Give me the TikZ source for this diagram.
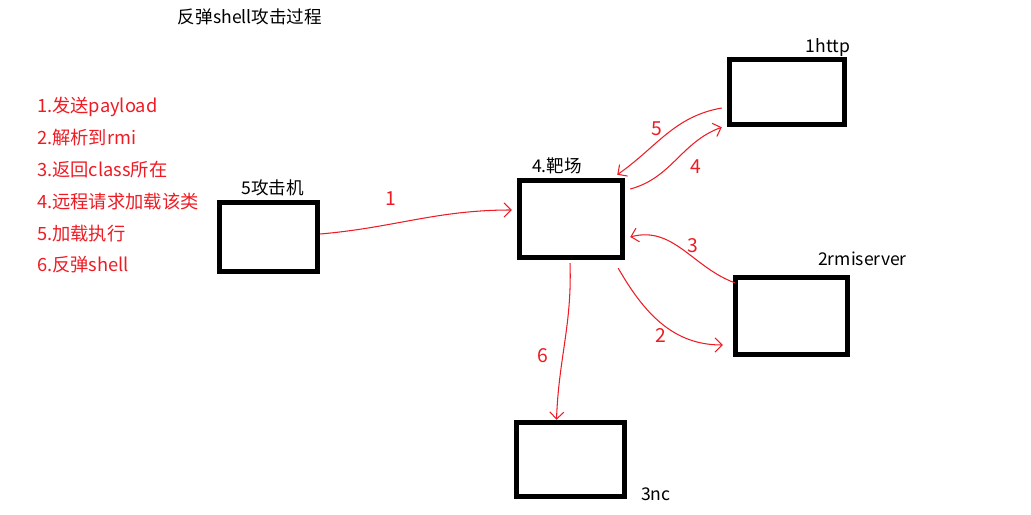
\documentclass[tikz,border=0pt]{standalone}
\usepackage{xcolor}
\usepackage{fontspec}
\setmainfont{Noto Sans CJK SC}
\usepackage{tikz}
\usetikzlibrary{positioning,arrows.meta}

\definecolor{penred}{RGB}{237,28,36}

\begin{document}
\begin{tikzpicture}[
x=0.02cm,y=-0.02cm,
>={Straight Barb[length=4pt,width=8pt]},
box/.style={
draw,
line width=0.11cm,
fill=white
},
boxlabel/.style={
font=\fontsize{10}{12}\selectfont,
inner sep=2pt
},
flow/.style={
draw=penred,
line width=0.6pt,
->
},
num/.style={
text=penred,
font=\fontsize{11}{13}\selectfont
}
]

\useasboundingbox (0,0) rectangle (1031,514);

%%%%%%%%%%%%%%%%%%%%%%%%%%%%%%%%%%%%%%%%%%%%%
% Title and steps
%%%%%%%%%%%%%%%%%%%%%%%%%%%%%%%%%%%%%%%%%%%%%

\node[boxlabel] (title) at (250,17)
{反弹shell攻击过程};

\node[text=penred,align=left,anchor=west,
font=\fontsize{10.4}{18.1}\selectfont] (steps) at (31,185.5)
{1.发送payload\\
2.解析到rmi\\
3.返回class所在\\
4.远程请求加载该类\\
5.加载执行\\
6.反弹shell};

%%%%%%%%%%%%%%%%%%%%%%%%%%%%%%%%%%%%%%%%%%%%%
% Machines
%%%%%%%%%%%%%%%%%%%%%%%%%%%%%%%%%%%%%%%%%%%%%

\node[box,minimum width=1.96cm,minimum height=1.38cm] (attacker) at (268.5,237) {};

\node[box,minimum width=2.06cm,minimum height=1.54cm] (target) at (571,219) {};

\node[box,minimum width=2.3cm,minimum height=1.3cm] (http) at (787,92) {};

\node[box,minimum width=2.24cm,minimum height=1.54cm] (rmi) at (791.5,316) {};

\node[box,minimum width=2.16cm,minimum height=1.48cm] (nc) at (570.5,459.5) {};

\node[boxlabel,above=0pt of attacker,xshift=0.08cm] (attackerlabel)
{5攻击机};

\node[boxlabel,above=0pt of target,xshift=-0.28cm] (targetlabel)
{4.靶场};

\node[boxlabel,above=-2pt of http,xshift=0.82cm] (httplabel)
{1http};

\node[boxlabel,above=3pt of rmi,xshift=1.42cm] (rmilabel)
{2rmiserver};

\node[boxlabel,right=0.2cm of nc.south east,yshift=0.1cm] (nclabel)
{3nc};

%%%%%%%%%%%%%%%%%%%%%%%%%%%%%%%%%%%%%%%%%%%%%
% Connections
%%%%%%%%%%%%%%%%%%%%%%%%%%%%%%%%%%%%%%%%%%%%%

\draw[flow] ([yshift=0.06cm]attacker.east) to[out=5,in=180] ([xshift=-0.1cm,yshift=0.18cm]target.west);

\draw[flow] ([xshift=-0.1cm,yshift=-0.32cm]http.west) to[out=190,in=35] ([xshift=-0.16cm,yshift=0.06cm]target.north east);

\draw[flow] ([xshift=0.1cm,yshift=0.6cm]target.east) to[out=15,in=200] ([xshift=-0.1cm]http.south west);

\draw[flow] ([xshift=0.04cm,yshift=-0.16cm]rmi.north west) to[out=160,in=15] ([xshift=0.1cm,yshift=-0.36cm]target.east);

\draw[flow] ([xshift=-0.14cm,yshift=-0.16cm]target.south east) to[out=-60,in=180] ([xshift=-0.2cm,yshift=-0.58cm]rmi.west);

\draw[flow] ([xshift=-0.02cm,yshift=-0.06cm]target.south) to[out=-88,in=88] ([xshift=-0.28cm]nc.north);

\node[num] (n1) at (391,199) {1};
\node[num] (n5) at (657,129) {5};
\node[num] (n4) at (696,167) {4};
\node[num] (n3) at (693,246) {3};
\node[num] (n2) at (661,335) {2};
\node[num] (n6) at (543,356) {6};

\end{tikzpicture}
\end{document}
